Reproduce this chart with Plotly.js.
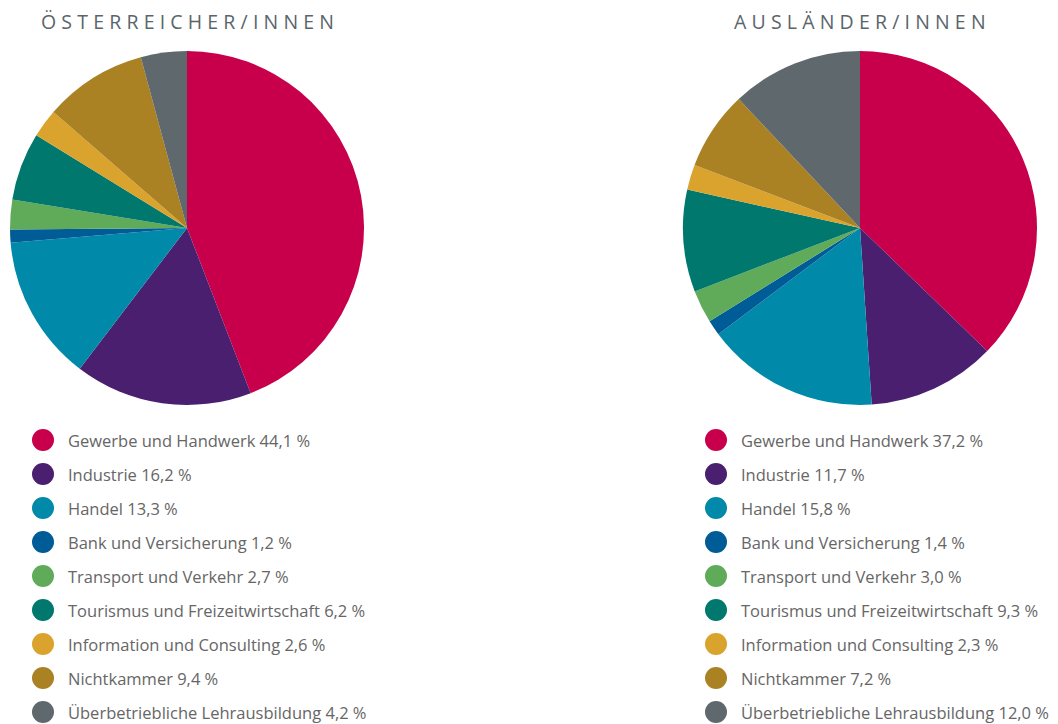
<!DOCTYPE html>
<html>
<head>
<meta charset="utf-8">
<script src="https://cdn.plot.ly/plotly-3.0.1.min.js"></script>
<style>html,body{margin:0;padding:0;background:#fff;}#chart{width:1058px;height:724px;}</style>
</head>
<body>
<div id="chart"></div>
<script>
const categories = ["Gewerbe und Handwerk", "Industrie", "Handel", "Bank und Versicherung", "Transport und Verkehr", "Tourismus und Freizeitwirtschaft", "Information und Consulting", "Nichtkammer", "Überbetriebliche Lehrausbildung"];
const oesterreicher = [44.1, 16.2, 13.3, 1.2, 2.7, 6.2, 2.6, 9.4, 4.2];
const auslaender = [37.2, 11.7, 15.8, 1.4, 3.0, 9.3, 2.3, 7.2, 12.0];
const colors = ["#c8004b", "#4a1f6f", "#0089a9", "#005c97", "#5fab5a", "#00786d", "#d9a32d", "#aa8224", "#5e686d"];
const titles = ["ÖSTERREICHER/INNEN", "AUSLÄNDER/INNEN"];

const W = 1058, H = 724;
const fmt = v => v.toFixed(1).replace('.', ',') + ' %';
const spaced = s => s.split('').join('\u2009\u200A');

function pie(values, x0, x1) {
  return {
    type: 'pie', values: values, labels: categories, sort: false, direction: 'clockwise', rotation: 0,
    marker: {colors: colors, line: {width: 0}}, textinfo: 'none', hoverinfo: 'label+percent',
    domain: {x: [x0 / W, x1 / W], y: [1 - 405 / H, 1 - 51 / H]}, showlegend: false
  };
}

const data = [pie(oesterreicher, 10, 364), pie(auslaender, 683, 1037)];

const shapes = [], annotations = [];
[[oesterreicher, 43, 66, 187], [auslaender, 716, 739, 860]].forEach(([vals, cx, tx, titleX], k) => {
  annotations.push({text: spaced(titles[k]), x: titleX / W, y: 1 - 21 / H, xref: 'paper', yref: 'paper', xanchor: 'center', yanchor: 'middle', showarrow: false, font: {family: 'Open Sans, sans-serif', size: 19.5, color: '#5a656b'}});
  categories.forEach((c, i) => {
    const cy = 440 + i * 34;
    shapes.push({type: 'circle', xref: 'paper', yref: 'paper', x0: (cx - 11) / W, x1: (cx + 11) / W, y0: 1 - (cy + 11) / H, y1: 1 - (cy - 11) / H, fillcolor: colors[i], line: {width: 0}});
    annotations.push({text: c + ' ' + fmt(vals[i]), x: tx / W, y: 1 - cy / H, xref: 'paper', yref: 'paper', xanchor: 'left', yanchor: 'middle', showarrow: false, font: {family: 'Open Sans, sans-serif', size: 16.5, color: '#666666'}});
  });
});

Plotly.newPlot('chart', data, {
  width: W, height: H, margin: {l: 0, r: 0, t: 0, b: 0},
  paper_bgcolor: '#ffffff', plot_bgcolor: '#ffffff', shapes: shapes, annotations: annotations
}, {displayModeBar: false, staticPlot: true});
</script>
</body>
</html>
